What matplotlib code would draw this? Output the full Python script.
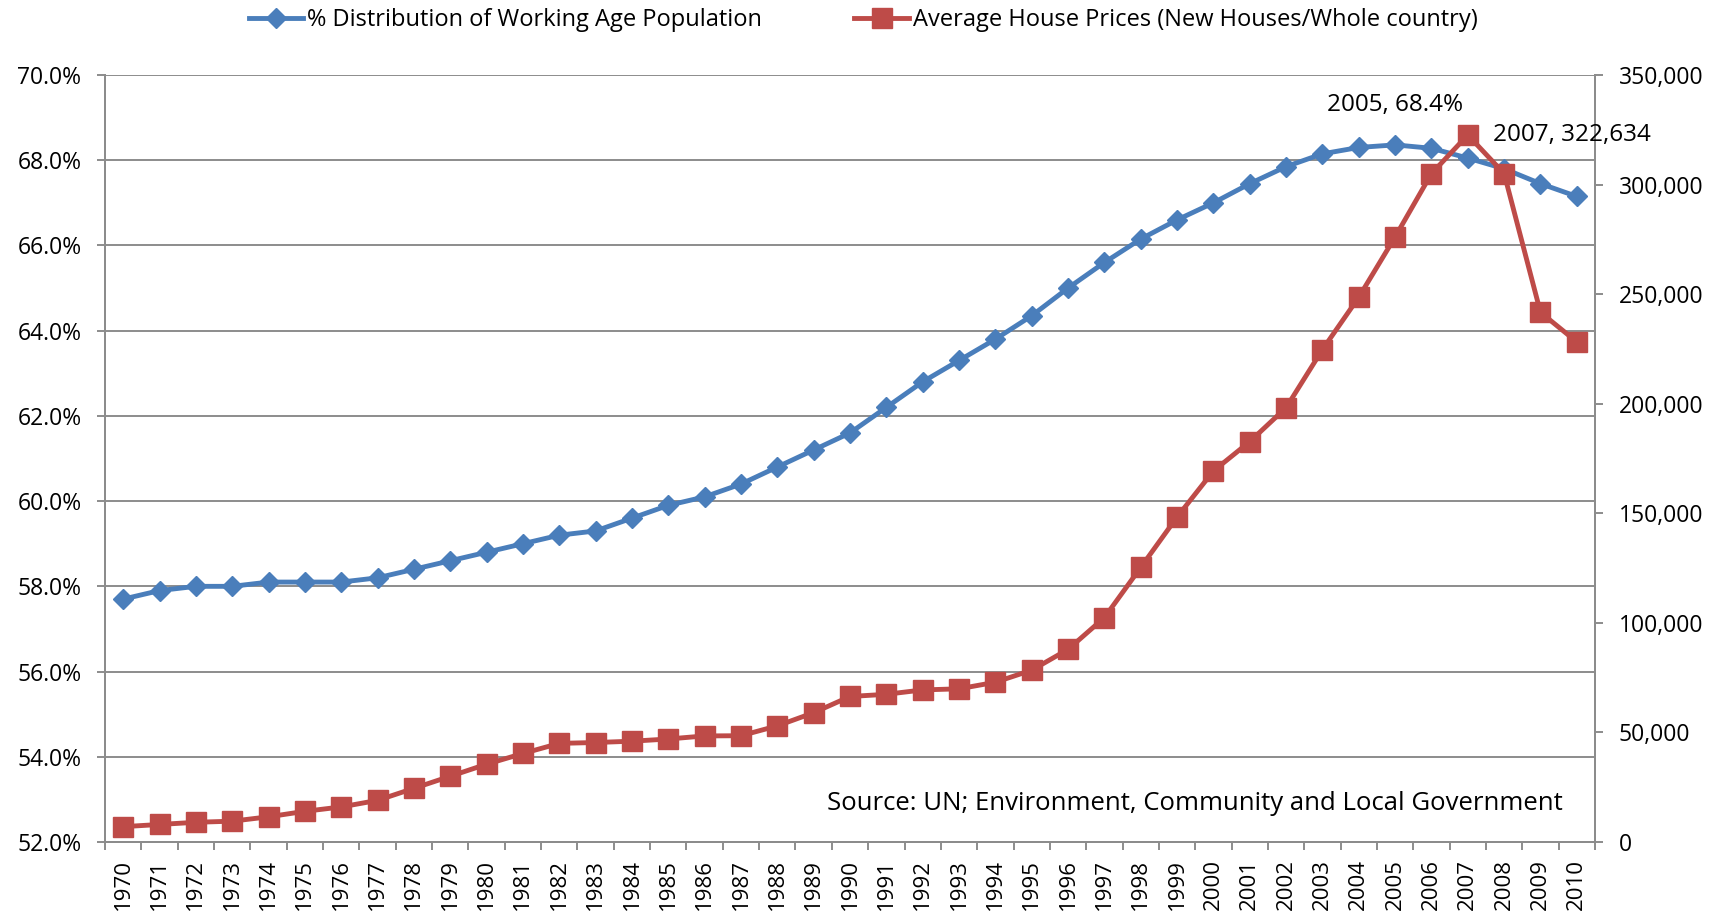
import matplotlib
matplotlib.use("Agg")
import matplotlib.pyplot as plt
from matplotlib.ticker import FuncFormatter, FixedLocator
import numpy as np

years = list(range(1970, 2011))
working_age_pct = [57.7, 57.9, 58.0, 58.0, 58.1, 58.1, 58.1, 58.2, 58.4, 58.6,
                   58.8, 59.0, 59.2, 59.3, 59.6, 59.9, 60.1, 60.4, 60.8, 61.2,
                   61.6, 62.2, 62.8, 63.3, 63.8, 64.35, 65.0, 65.6, 66.15, 66.6,
                   67.0, 67.45, 67.85, 68.15, 68.3, 68.36, 68.28, 68.05, 67.8, 67.45,
                   67.15]
house_prices = [7000, 8000, 9000, 9500, 11500, 14000, 16000, 19000, 24500, 30000,
                35500, 40400, 45000, 45400, 46000, 47000, 48400, 48500, 53000, 59000,
                66400, 67400, 69400, 69900, 72900, 78400, 87900, 102400, 125300, 148300,
                169300, 182700, 198200, 224700, 248600, 276100, 305000, 322634, 305000, 241700,
                228200]
label_pct = "% Distribution of Working Age Population"
label_price = "Average House Prices (New Houses/Whole country)"
source_text = "Source: UN; Environment, Community and Local Government"

BLUE = "#4A7EBB"
RED = "#BE4B48"
GRID = "#8C8C8C"
FONT = ["Open Sans", "DejaVu Sans"]

fig = plt.figure(figsize=(17.21, 9.18), dpi=100)
L, R, B, T = 105 / 1721, 1595 / 1721, 1 - 842 / 918, 1 - 75 / 918
ax = fig.add_axes([L, B, R - L, T - B])
ax2 = ax.twinx()

x = np.arange(len(years))
l1, = ax.plot(x, working_age_pct, color=BLUE, lw=3.5, marker="D", ms=10.5,
              markeredgecolor=BLUE, label=label_pct, zorder=3)
l2, = ax2.plot(x, house_prices, color=RED, lw=3.5, marker="s", ms=14,
               markeredgecolor=RED, label=label_price, zorder=3)

ax.set_xlim(-0.5, len(years) - 0.5)
ax.set_ylim(52, 70)
ax2.set_ylim(0, 350000)
ax.set_yticks(np.arange(52, 70.1, 2))
ax.yaxis.set_major_formatter(FuncFormatter(lambda v, p: f"{v:.1f}%"))
ax2.set_yticks(np.arange(0, 350001, 50000))
ax2.yaxis.set_major_formatter(FuncFormatter(lambda v, p: f"{int(v):,}"))

ax.grid(axis="y", color=GRID, lw=1.4)
ax.set_axisbelow(True)

ax.set_xticks(x)
ax.set_xticklabels([str(y) for y in years], rotation=90, fontsize=16,
                   family=FONT)
ax.xaxis.set_minor_locator(FixedLocator(np.arange(-0.5, len(years), 1.0)))
ax.tick_params(axis="x", which="major", length=0, pad=12)
ax.tick_params(axis="x", which="minor", length=6, color=GRID, width=1.4)
ax.tick_params(axis="y", length=6, color=GRID, width=1.4, labelsize=16.5, pad=11)
ax2.tick_params(axis="y", length=6, color=GRID, width=1.4, labelsize=16.5, pad=11)
for t in ax.get_yticklabels() + ax2.get_yticklabels():
    t.set_family(FONT)

for a in (ax, ax2):
    a.spines["top"].set_visible(False)
    for s in ("left", "right", "bottom"):
        a.spines[s].set_color(GRID)
        a.spines[s].set_linewidth(1.4)

# annotations
i05 = years.index(2005)
ax.annotate(f"2005, {working_age_pct[i05]:.1f}%", (x[i05], working_age_pct[i05]),
            xytext=(0, 20), textcoords="offset points", ha="center", va="bottom",
            fontsize=17.5, family=FONT)
i07 = years.index(2007)
ax2.annotate(f"2007, {house_prices[i07]:,}", (x[i07], house_prices[i07]),
             xytext=(18, 0), textcoords="offset points", ha="left", va="center",
             fontsize=17.5, family=FONT)

ax.text(0.9785, 0.042, source_text, transform=ax.transAxes, ha="right", va="baseline",
        fontsize=18.5, family=FONT)

fig.legend(handles=[l1, l2], loc="center", bbox_to_anchor=(0.5016, 0.978), ncol=2,
           frameon=False, prop={"family": FONT, "size": 17}, handlelength=2.3,
           handletextpad=0.17, columnspacing=3.9)

fig.savefig("out.png", dpi=100)
